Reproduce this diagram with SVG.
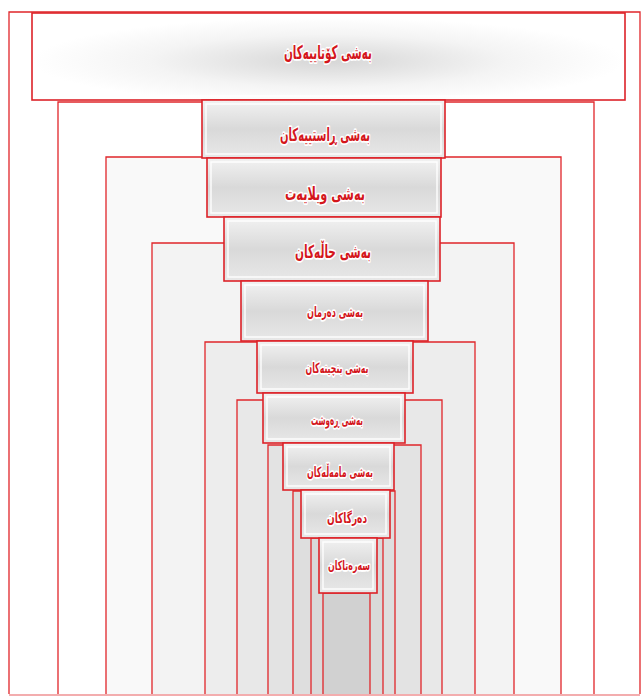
<svg xmlns="http://www.w3.org/2000/svg" width="642" height="697" viewBox="0 0 642 697">
<defs>
<style>
.leg{fill:none;stroke:#e0262a;stroke-width:1.3}
.box{stroke:#dc2228;stroke-width:1.6;fill:url(#boxg)}
.inner{fill:none;stroke:#ffffff;stroke-width:1.5;opacity:0.9}
.lbl{font-family:"DejaVu Sans",sans-serif;font-weight:bold;fill:#d4161c;stroke:#ffffff;stroke-width:3.4;paint-order:stroke;stroke-linejoin:round;text-anchor:middle;dominant-baseline:central}
.shade{fill:#9a9a9a;fill-opacity:0.055}
</style>
<linearGradient id="boxg" x1="0" y1="0" x2="0" y2="1">
<stop offset="0" stop-color="#f2f2f2"/>
<stop offset="0.5" stop-color="#d9d9d9"/>
<stop offset="1" stop-color="#e8e8e8"/>
</linearGradient>
<radialGradient id="topg" cx="0.5" cy="0.55" r="0.5">
<stop offset="0" stop-color="#d6d6d6"/>
<stop offset="0.6" stop-color="#f4f4f4"/>
<stop offset="1" stop-color="#ffffff"/>
</radialGradient>
</defs>
<rect width="642" height="697" fill="#ffffff"/>
<g id="shading">
<rect class="shade" x="106" y="157" width="455" height="537"/>
<rect class="shade" x="152" y="243" width="362" height="451"/>
<rect class="shade" x="205" y="342" width="270" height="352"/>
<rect class="shade" x="237" y="400" width="205" height="294"/>
<rect class="shade" x="268" y="445" width="153" height="249"/>
<rect class="shade" x="293" y="491" width="102" height="203"/>
<rect class="shade" x="311" y="538" width="72" height="156"/>
<rect class="shade" x="323" y="593" width="47" height="101"/>
<rect class="shade" x="323" y="593" width="47" height="101"/>
</g>
<g id="legs">
<path class="leg" d="M9,694 V12 H640 V694"/>
<path class="leg" d="M58,694 V102 H594 V694"/>
<path class="leg" d="M106,694 V157 H561 V694"/>
<path class="leg" d="M152,694 V243 H514 V694"/>
<path class="leg" d="M205,694 V342 H475 V694"/>
<path class="leg" d="M237,694 V400 H442 V694"/>
<path class="leg" d="M268,694 V445 H421 V694"/>
<path class="leg" d="M293,694 V491 H395 V694"/>
<path class="leg" d="M311,694 V538 H383 V694"/>
<path class="leg" d="M323,694 V593 H370 V694"/>
<path class="leg" d="M9,695 H640" stroke-opacity="0.5"/>
</g>
<g id="node1">
<rect x="32" y="13" width="593" height="87" stroke="#dc2228" stroke-width="1.6" fill="url(#topg)"/>
<rect class="inner" x="36" y="17" width="585" height="79"/>
<text class="lbl" x="328" y="52" font-size="19" textLength="88" lengthAdjust="spacingAndGlyphs">بەشی کۆتاییەکان</text>
</g>
<g id="node2">
<rect class="box" x="202" y="100" width="243" height="58"/>
<rect class="inner" x="206" y="104" width="235" height="50"/>
<text class="lbl" x="325" y="134" font-size="18" textLength="90" lengthAdjust="spacingAndGlyphs">بەشی ڕاستییەکان</text>
</g>
<g id="node3">
<rect class="box" x="207" y="158" width="234" height="59"/>
<rect class="inner" x="211" y="162" width="226" height="51"/>
<text class="lbl" x="325" y="193" font-size="18" textLength="80" lengthAdjust="spacingAndGlyphs">بەشی ویلایەت</text>
</g>
<g id="node4">
<rect class="box" x="224" y="217" width="216" height="64"/>
<rect class="inner" x="228" y="221" width="208" height="56"/>
<text class="lbl" x="333" y="251" font-size="18" textLength="76" lengthAdjust="spacingAndGlyphs">بەشی حاڵەکان</text>
</g>
<g id="node5">
<rect class="box" x="241" y="281" width="187" height="60"/>
<rect class="inner" x="245" y="285" width="179" height="52"/>
<text class="lbl" x="335" y="312" font-size="14" textLength="56" lengthAdjust="spacingAndGlyphs">بەشی دەرمان</text>
</g>
<g id="node6">
<rect class="box" x="257" y="341" width="156" height="52"/>
<rect class="inner" x="261" y="345" width="148" height="44"/>
<text class="lbl" x="337" y="368" font-size="14" textLength="63" lengthAdjust="spacingAndGlyphs">بەشی بنچینەکان</text>
</g>
<g id="node7">
<rect class="box" x="263" y="393" width="142" height="50"/>
<rect class="inner" x="267" y="397" width="134" height="42"/>
<text class="lbl" x="337" y="420" font-size="14" textLength="52" lengthAdjust="spacingAndGlyphs">بەشی ڕەوشت</text>
</g>
<g id="node8">
<rect class="box" x="283" y="443" width="111" height="47"/>
<rect class="inner" x="287" y="447" width="103" height="39"/>
<text class="lbl" x="340" y="472" font-size="14" textLength="66" lengthAdjust="spacingAndGlyphs">بەشی مامەڵەکان</text>
</g>
<g id="node9">
<rect class="box" x="301" y="490" width="89" height="48"/>
<rect class="inner" x="305" y="494" width="81" height="40"/>
<text class="lbl" x="347" y="518" font-size="14" textLength="40" lengthAdjust="spacingAndGlyphs">دەرگاکان</text>
</g>
<g id="node10">
<rect class="box" x="319" y="538" width="58" height="55"/>
<rect class="inner" x="323" y="542" width="50" height="47"/>
<text class="lbl" x="349" y="565" font-size="13" textLength="42" lengthAdjust="spacingAndGlyphs">سەرەتاکان</text>
</g>
</svg>
